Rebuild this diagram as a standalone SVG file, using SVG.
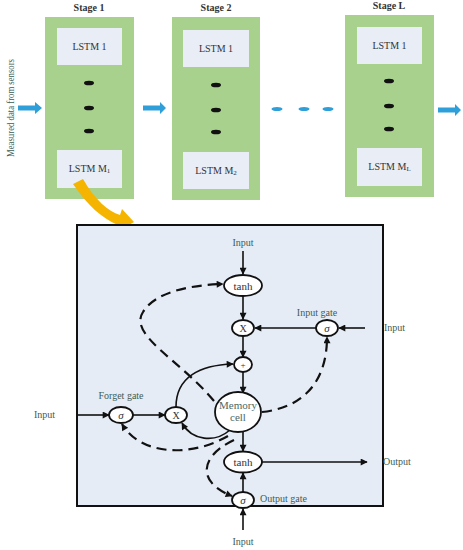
<svg xmlns="http://www.w3.org/2000/svg" width="463" height="550" viewBox="0 0 463 550">
<style>
.stage{fill:#a9d18e}
.inner{fill:#e9edf6}
.title{font-family:"Liberation Serif",serif;font-size:10px;font-weight:bold;fill:#333;text-anchor:middle}
.lbl{font-family:"Liberation Serif",serif;font-size:10px;fill:#333;text-anchor:middle}
.dot{fill:#111}
.blue{fill:#2e9fd8}
.lab{font-family:"Liberation Serif",serif;font-size:10px;fill:#3d5c55}
.mid{text-anchor:middle}
.node{fill:#ffffff;stroke:#111;stroke-width:1.8}
.ntext{font-family:"Liberation Serif",serif;font-size:11px;fill:#333;text-anchor:middle}
.sol{fill:none;stroke:#111;stroke-width:1.6}
.dash{fill:none;stroke:#111;stroke-width:2.2;stroke-dasharray:10,6}
</style>
<defs>
<marker id="ah" viewBox="0 0 10 10" refX="9" refY="5" markerWidth="9" markerHeight="7" markerUnits="userSpaceOnUse" orient="auto">
<path d="M0,0 L10,5 L0,10 z" fill="#111"/>
</marker>
</defs>
<rect width="463" height="550" fill="#ffffff"/>

<text x="10" y="108" class="lab mid" transform="rotate(-90 10 108)" dy="3.5" textLength="98" lengthAdjust="spacingAndGlyphs" style="font-size:11px">Measured data from sensors</text>

<g id="stage1">
<text x="89" y="11" class="title">Stage 1</text>
<rect x="45" y="17" width="89" height="182" class="stage"/>
<rect x="57" y="28" width="65" height="37" class="inner"/>
<text x="89.5" y="50" class="lbl">LSTM 1</text>
<ellipse cx="89" cy="83" rx="5" ry="2.3" class="dot"/>
<ellipse cx="89" cy="108" rx="5" ry="2.3" class="dot"/>
<ellipse cx="89" cy="131" rx="5" ry="2.3" class="dot"/>
<rect x="57" y="150" width="65" height="38" class="inner"/>
<text x="89.5" y="172" class="lbl">LSTM M<tspan font-size="7" dy="1">1</tspan></text>
</g>
<g id="stage2">
<text x="216" y="11" class="title">Stage 2</text>
<rect x="172" y="17" width="88" height="183" class="stage"/>
<rect x="183" y="30" width="66" height="37" class="inner"/>
<text x="216" y="52" class="lbl">LSTM 1</text>
<ellipse cx="216" cy="85" rx="5" ry="2.3" class="dot"/>
<ellipse cx="216" cy="110" rx="5" ry="2.3" class="dot"/>
<ellipse cx="216" cy="132" rx="5" ry="2.3" class="dot"/>
<rect x="183" y="152" width="66" height="37" class="inner"/>
<text x="216" y="174" class="lbl">LSTM M<tspan font-size="7" dy="1">2</tspan></text>
</g>
<g id="stageL">
<text x="389" y="9" class="title">Stage L</text>
<rect x="345" y="15" width="89" height="182" class="stage"/>
<rect x="357" y="27" width="65" height="37" class="inner"/>
<text x="389.5" y="49" class="lbl">LSTM 1</text>
<ellipse cx="389" cy="81" rx="5" ry="2.3" class="dot"/>
<ellipse cx="389" cy="106" rx="5" ry="2.3" class="dot"/>
<ellipse cx="389" cy="129" rx="5" ry="2.3" class="dot"/>
<rect x="357" y="148" width="65" height="38" class="inner"/>
<text x="389.5" y="170" class="lbl">LSTM M<tspan font-size="7" dy="1">L</tspan></text>
</g>

<g id="flow-arrows">
<path d="M18,105.5 H35 V102 L42,108 L35,114 V110.5 H18 z" class="blue"/>
<path d="M143,105.5 H160 V102 L166,108 L160,114 V110.5 H143 z" class="blue"/>
<path d="M438,107.5 H455 V104 L461,110 L455,116 V112.5 H438 z" class="blue"/>
<ellipse cx="277" cy="109" rx="5.5" ry="2" class="blue"/>
<ellipse cx="304" cy="109" rx="5.5" ry="2" class="blue"/>
<ellipse cx="328" cy="109" rx="5.5" ry="2" class="blue"/>
</g>

<g id="zoom-arrow">
<path d="M73,184 L83,179 C95,200 108,211 120,215 L122,209 L134,222 L117,232 L118,225 C102,218 88,206 73,184 z" fill="#f5b400"/>
</g>

<g id="cell-box">
<rect x="77" y="225" width="306" height="281" fill="#e5ecf6" stroke="#111" stroke-width="2"/>
</g>

<g id="connectors">
<line x1="243" y1="251" x2="243" y2="274" class="sol" marker-end="url(#ah)"/>
<line x1="243" y1="296" x2="243" y2="319" class="sol" marker-end="url(#ah)"/>
<line x1="243" y1="336" x2="243" y2="357" class="sol" marker-end="url(#ah)"/>
<line x1="243" y1="372" x2="243" y2="393" class="sol" marker-end="url(#ah)"/>
<line x1="365" y1="328" x2="339" y2="328" class="sol" marker-end="url(#ah)"/>
<line x1="316" y1="328" x2="255" y2="328" class="sol" marker-end="url(#ah)"/>
<line x1="78" y1="415" x2="109" y2="415" class="sol" marker-end="url(#ah)"/>
<line x1="133" y1="415" x2="165" y2="415" class="sol" marker-end="url(#ah)"/>
<path d="M176,407 C176,377 200,365 233,364" class="sol" marker-end="url(#ah)"/>
<path d="M230,430 C215,443 192,441 182,423" class="sol" marker-end="url(#ah)"/>
<line x1="243" y1="431" x2="243" y2="451" class="sol" marker-end="url(#ah)"/>
<line x1="262" y1="462" x2="367" y2="462" class="sol" marker-end="url(#ah)"/>
<line x1="243" y1="492" x2="243" y2="473" class="sol" marker-end="url(#ah)"/>
<line x1="243" y1="530" x2="243" y2="509" class="sol" marker-end="url(#ah)"/>
<path d="M214,401 C180,360 128,335 143,312 C155,292 190,285 223,284" class="dash" marker-end="url(#ah)"/>
<path d="M262,412 C300,408 327,385 327,337" class="dash" marker-end="url(#ah)"/>
<path d="M228,436 C190,458 140,455 122,424" class="dash" marker-end="url(#ah)"/>
<path d="M234,440 C200,456 196,482 232,496" class="dash" marker-end="url(#ah)"/>
</g>

<g id="tanh-in">
<ellipse cx="243" cy="285.5" rx="19" ry="10.5" class="node"/>
<text x="243" y="289.5" class="ntext">tanh</text>
</g>
<g id="mult-in">
<ellipse cx="243" cy="328" rx="11" ry="8" class="node"/>
<text x="243" y="332" class="ntext" style="font-size:10px">X</text>
</g>
<g id="input-gate">
<ellipse cx="327" cy="328" rx="11" ry="8" class="node"/>
<text x="327" y="331.5" class="ntext" font-style="italic">σ</text>
</g>
<g id="plus">
<ellipse cx="243" cy="364.5" rx="9" ry="7.5" class="node"/>
<text x="243" y="368" class="ntext" style="font-size:9px">+</text>
</g>
<g id="memory-cell">
<ellipse cx="238" cy="412" rx="23" ry="20" class="node"/>
<text x="238" y="409" class="ntext" fill="#4a6a65" style="fill:#4a6a65">Memory</text>
<text x="238" y="421" class="ntext" style="fill:#4a6a65">cell</text>
</g>
<g id="forget-gate">
<ellipse cx="121" cy="415" rx="12" ry="8" class="node"/>
<text x="121" y="418.5" class="ntext" font-style="italic">σ</text>
</g>
<g id="mult-forget">
<ellipse cx="176" cy="415" rx="11" ry="8" class="node"/>
<text x="176" y="419" class="ntext" style="font-size:10px">X</text>
</g>
<g id="tanh-out">
<ellipse cx="243" cy="462" rx="19" ry="10.5" class="node"/>
<text x="243" y="466" class="ntext">tanh</text>
</g>
<g id="output-gate">
<ellipse cx="243" cy="500" rx="11" ry="8" class="node"/>
<text x="243" y="503.5" class="ntext" font-style="italic">σ</text>
</g>

<g id="labels">
<text x="243" y="246" class="lab mid">Input</text>
<text x="317" y="316" class="lab mid">Input gate</text>
<text x="384" y="331" class="lab">Input</text>
<text x="121" y="399" class="lab mid">Forget gate</text>
<text x="34" y="418" class="lab">Input</text>
<text x="383" y="465" class="lab">Output</text>
<text x="260" y="502" class="lab">Output gate</text>
<text x="243" y="545" class="lab mid">Input</text>
</g>
</svg>
